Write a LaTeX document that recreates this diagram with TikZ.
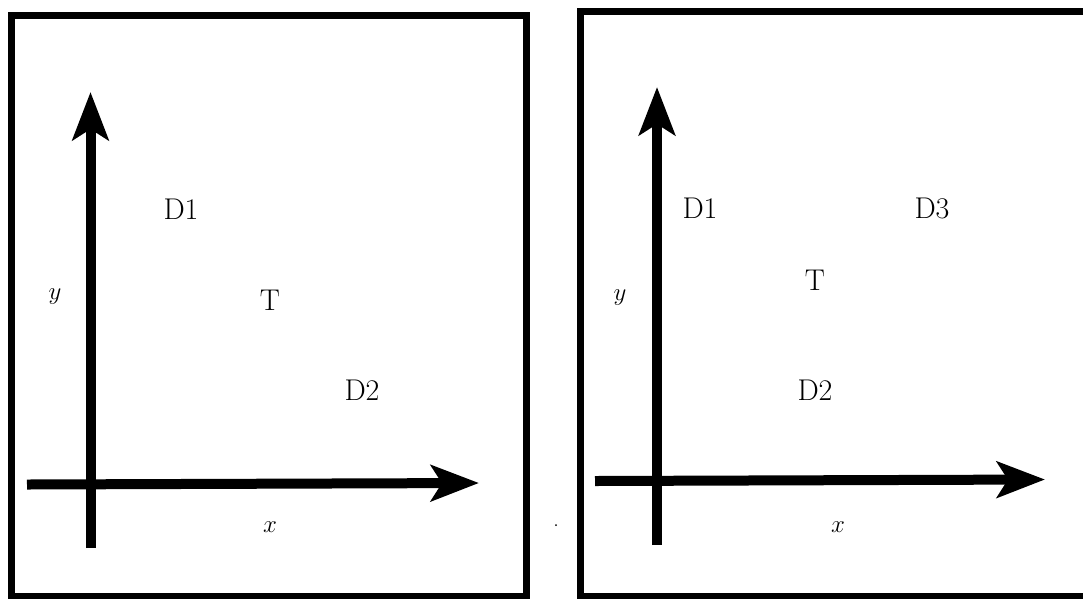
\documentclass[tikz,border=0pt]{standalone}
\usetikzlibrary{arrows.meta}
\begin{document}
\begin{tikzpicture}[x=1pt,y=-1pt,
  frame/.style={line width=7pt},
  axis/.style={line width=10pt,-{Stealth[length=48pt,width=36pt,inset=11pt]}},
  lbl/.style={font=\fontsize{30}{36}\selectfont,inner sep=0pt}]
\useasboundingbox (0,0) rectangle (1083,598);
\clip (0,0) rectangle (1083,598);
% left panel
\draw[frame] (11,15) rectangle (526,596);
\coordinate (ly0) at (90.5,548);
\coordinate (ly1) at (90.5,92);
\coordinate (lx0) at (27,484.5);
\coordinate (lx1) at (479,483);
\draw[axis] (ly0) -- (ly1);
\draw[axis] (lx0) -- (lx1);
\node[lbl] (lD1) at (181,209) {D1};
\node[lbl] (lT) at (270,300) {T};
\node[lbl] (lD2) at (362,390) {D2};
\node[lbl] (ly) at (55,297) {$y$};
\node[lbl] (lx) at (270,527) {$x$};
% stray dot
\fill (556,525) circle (1pt);
% right panel
\draw[frame] (580,11) rectangle (1095,596);
\coordinate (ry0) at (657,545);
\coordinate (ry1) at (657,87);
\coordinate (rx0) at (595,481);
\coordinate (rx1) at (1045,479.5);
\draw[axis] (ry0) -- (ry1);
\draw[axis] (rx0) -- (rx1);
\node[lbl] (rD1) at (700,208) {D1};
\node[lbl] (rD3) at (932,208) {D3};
\node[lbl] (rT) at (815,280) {T};
\node[lbl] (rD2) at (815,390) {D2};
\node[lbl] (ry) at (620,298) {$y$};
\node[lbl] (rx) at (838,527) {$x$};
\end{tikzpicture}
\end{document}
